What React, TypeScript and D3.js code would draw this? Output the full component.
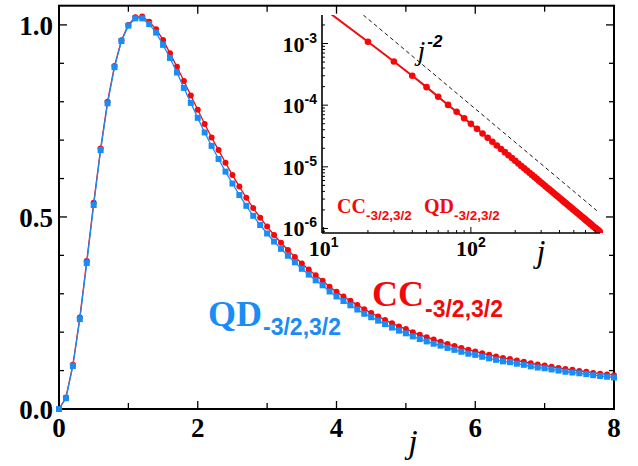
import * as d3 from 'd3';

// main panel: j from 0 to 8, step 0.1
const jGrid = d3.range(0, 81).map(i => i / 10);

const ccValues = [
  0, 0.030, 0.115, 0.238, 0.385, 0.537, 0.678, 0.800, 0.893, 0.960,
  1.000, 1.020, 1.022, 1.008, 0.989, 0.961, 0.926, 0.891, 0.854, 0.816,
  0.779, 0.742, 0.707, 0.674, 0.641, 0.609, 0.579, 0.550, 0.523, 0.498,
  0.475, 0.453, 0.433, 0.414, 0.396, 0.379, 0.363, 0.348, 0.334, 0.318,
  0.305, 0.293, 0.282, 0.271, 0.260, 0.250, 0.241, 0.232, 0.223, 0.215,
  0.208, 0.200, 0.193, 0.187, 0.181, 0.175, 0.169, 0.164, 0.159, 0.154,
  0.150, 0.145, 0.141, 0.137, 0.133, 0.130, 0.126, 0.123, 0.119, 0.116,
  0.113, 0.110, 0.107, 0.104, 0.102, 0.099, 0.097, 0.094, 0.092, 0.090,
  0.088,
];

const qdValues = [
  0, 0.028, 0.112, 0.234, 0.380, 0.531, 0.674, 0.796, 0.890, 0.958,
  0.998, 1.017, 1.017, 1.002, 0.980, 0.948, 0.914, 0.876, 0.836, 0.797,
  0.758, 0.720, 0.685, 0.651, 0.618, 0.587, 0.557, 0.529, 0.503, 0.479,
  0.457, 0.436, 0.417, 0.399, 0.382, 0.365, 0.350, 0.335, 0.322, 0.306,
  0.293, 0.281, 0.270, 0.259, 0.248, 0.239, 0.230, 0.221, 0.212, 0.204,
  0.197, 0.189, 0.182, 0.176, 0.170, 0.165, 0.159, 0.154, 0.149, 0.144,
  0.141, 0.136, 0.132, 0.128, 0.124, 0.122, 0.118, 0.115, 0.111, 0.108,
  0.106, 0.103, 0.100, 0.097, 0.095, 0.093, 0.091, 0.088, 0.086, 0.084,
  0.082,
];

// inset: j = 10 .. 750, step 10 (log-log)
const insetJ = d3.range(1, 76).map(i => i * 10);
const insetCC = [
  3.7e-3, 1.07e-3, 5.1e-4, 3.0e-4, 1.96e-4, 1.37e-4, 1.01e-4, 7.8e-5, 6.15e-5, 5.0e-5,
  4.13e-5, 3.47e-5, 2.96e-5, 2.55e-5, 2.22e-5, 1.95e-5, 1.73e-5, 1.54e-5, 1.385e-5, 1.25e-5,
  1.134e-5, 1.033e-5, 9.45e-6, 8.68e-6, 8.0e-6, 7.4e-6, 6.86e-6, 6.38e-6, 5.95e-6, 5.56e-6,
  5.2e-6, 4.88e-6, 4.59e-6, 4.33e-6, 4.08e-6, 3.86e-6, 3.65e-6, 3.46e-6, 3.29e-6, 3.13e-6,
  2.97e-6, 2.83e-6, 2.7e-6, 2.58e-6, 2.47e-6, 2.36e-6, 2.26e-6, 2.17e-6, 2.08e-6, 2.0e-6,
  1.92e-6, 1.85e-6, 1.78e-6, 1.71e-6, 1.65e-6, 1.59e-6, 1.54e-6, 1.49e-6, 1.44e-6, 1.39e-6,
  1.34e-6, 1.3e-6, 1.26e-6, 1.22e-6, 1.18e-6, 1.15e-6, 1.11e-6, 1.08e-6, 1.05e-6, 1.02e-6,
  0.99e-6, 0.965e-6, 0.94e-6, 0.913e-6, 0.889e-6,
];

// j^-2 guide line endpoints
const guideJ = [18.6, 716];
const guideValues = [2.9e-3, 1.95e-6];

const mainXTicks = [0, 2, 4, 6, 8];
const mainYTicks = [0, 0.5, 1.0];
const mainYLabels = ['0.0', '0.5', '1.0'];
const insetXExp = [1, 2];
const insetYExp = [-6, -5, -4, -3];

const RED = '#f5080a';
const BLUE = '#1a8cf5';
const SERIF = "'Liberation Serif', 'Times New Roman', serif";
const SANS = "'Liberation Sans', Arial, sans-serif";

type P = [number, number];

export default function App() {
  const x = d3.scaleLinear().domain([0, 8]).range([59, 614]);
  const y = d3.scaleLinear().domain([0, 1.05]).range([409, 5.7]);
  const xi = d3.scaleLog().domain([9.75, 753]).range([322, 600]);
  const yi = d3.scaleLog().domain([8.45e-7, 2.9e-3]).range([233, 15]);

  const ccPts: P[] = jGrid.map((j, i) => [j, ccValues[i]]);
  const qdPts: P[] = jGrid.map((j, i) => [j, qdValues[i]]);
  const insetPts: P[] = insetJ.map((j, i) => [j, insetCC[i]]);
  const guidePts: P[] = guideJ.map((j, i) => [j, guideValues[i]]);

  const line = d3.line<P>().x(d => x(d[0])).y(d => y(d[1]));
  const lineI = d3.line<P>().x(d => xi(d[0])).y(d => yi(d[1]));

  const [x0, x1] = x.range();
  const [yb, yt] = y.range();
  const xMinor = d3.range(0, 9);
  const yMinor = d3.range(0, 11).map(i => i / 10);

  const [xiL, xiR] = xi.range();
  const [yiB, yiT] = yi.range();
  const [dyLo, dyHi] = yi.domain();
  const [dxLo, dxHi] = xi.domain();
  const insetYTicks: number[] = [];
  for (let e = -7; e <= -2; e++) for (let k = 1; k < 10; k++) {
    const v = k * Math.pow(10, e);
    if (v >= dyLo && v <= dyHi) insetYTicks.push(v);
  }
  const insetXTicks: number[] = [];
  for (let e = 0; e <= 3; e++) for (let k = 1; k < 10; k++) {
    const v = k * Math.pow(10, e);
    if (v >= dxLo && v <= dxHi) insetXTicks.push(v);
  }
  const isDecade = (v: number) => Math.abs(Math.log10(v) - Math.round(Math.log10(v))) < 1e-6;

  return (
    <svg width={638} height={466} style={{ position: 'fixed', left: 0, top: 0, background: '#fff' }}>
      <defs>
        <clipPath id="insetClip">
          <rect x={xiL} y={yiT} width={xiR - xiL + 6} height={yiB - yiT} />
        </clipPath>
      </defs>

      {/* main frame */}
      <rect x={x0} y={yt} width={x1 - x0} height={yb - yt} fill="none" stroke="#000" strokeWidth={2} />
      {xMinor.map(v => {
        const len = v % 2 === 0 ? 8 : 6;
        return (
          <g key={'xt' + v} stroke="#000" strokeWidth={1.3}>
            <line x1={x(v)} x2={x(v)} y1={yb} y2={yb - len} />
            <line x1={x(v)} x2={x(v)} y1={yt} y2={yt + len} />
          </g>
        );
      })}
      {yMinor.map(v => {
        const len = Math.abs(v * 2 - Math.round(v * 2)) < 1e-6 ? 8 : 5;
        return (
          <g key={'yt' + v} stroke="#000" strokeWidth={1.3}>
            <line x1={x0} x2={x0 + len} y1={y(v)} y2={y(v)} />
            <line x1={x1} x2={x1 - len} y1={y(v)} y2={y(v)} />
          </g>
        );
      })}
      {mainXTicks.map(v => (
        <text key={'xl' + v} x={x(v)} y={437} textAnchor="middle" fontFamily={SERIF} fontWeight="bold" fontSize={27}>{v}</text>
      ))}
      {mainYTicks.map((v, i) => (
        <text key={'yl' + v} x={53} y={y(v) + 10} textAnchor="end" fontFamily={SERIF} fontWeight="bold" fontSize={27}>{mainYLabels[i]}</text>
      ))}
      <text x={413} y={453} textAnchor="middle" fontFamily={SERIF} fontStyle="italic" fontSize={34}>j</text>

      {/* main curves */}
      <path d={line(ccPts) || ''} fill="none" stroke={RED} strokeWidth={1.3} />
      {ccPts.map((d, i) => (
        <circle key={'c' + i} cx={x(d[0])} cy={y(d[1])} r={3} fill={RED} />
      ))}
      <path d={line(qdPts) || ''} fill="none" stroke={BLUE} strokeWidth={1.3} />
      {qdPts.map((d, i) => (
        <rect key={'q' + i} x={x(d[0]) - 3} y={y(d[1]) - 3} width={6} height={6} fill={BLUE} />
      ))}

      <text x={208} y={326} fontFamily={SERIF} fontWeight="bold" fontSize={36} fill={BLUE}>
        QD<tspan dy={9} dx={1} fontFamily={SANS} fontSize={23}>-3/2,3/2</tspan>
      </text>
      <text x={372} y={306} fontFamily={SERIF} fontWeight="bold" fontSize={36} fill={RED}>
        CC<tspan dy={11} dx={1} fontFamily={SANS} fontSize={23}>-3/2,3/2</tspan>
      </text>

      {/* inset */}
      <g clipPath="url(#insetClip)">
        <path d={lineI(guidePts) || ''} fill="none" stroke="#000" strokeWidth={0.9} strokeDasharray="4,3" />
        <path d={lineI(insetPts) || ''} fill="none" stroke={RED} strokeWidth={2} />
        {insetPts.map((d, i) => (
          <circle key={'ic' + i} cx={xi(d[0])} cy={yi(d[1])} r={3.3} fill={RED} />
        ))}
      </g>
      <line x1={xiL} x2={xiL} y1={yiT} y2={yiB} stroke="#000" strokeWidth={1.6} />
      <line x1={xiL} x2={xiR} y1={yiB} y2={yiB} stroke="#000" strokeWidth={1.6} />
      {insetYTicks.map(v => (
        <line key={'iy' + v} x1={xiL} x2={xiL + (isDecade(v) ? 6 : 3)} y1={yi(v)} y2={yi(v)} stroke="#000" strokeWidth={1} />
      ))}
      {insetXTicks.map(v => (
        <line key={'ix' + v} x1={xi(v)} x2={xi(v)} y1={yiB} y2={yiB - (isDecade(v) ? 6 : 3)} stroke="#000" strokeWidth={1} />
      ))}
      {insetYExp.map(e => (
        <text key={'iyl' + e} x={317} y={yi(Math.pow(10, e)) + 8} textAnchor="end" fontFamily={SERIF} fontWeight="bold" fontSize={22}>
          10<tspan dy={-9} fontFamily={SANS} fontSize={14}>{e}</tspan>
        </text>
      ))}
      {insetXExp.map(e => (
        <text key={'ixl' + e} x={xi(Math.pow(10, e))} y={256} textAnchor="middle" fontFamily={SERIF} fontWeight="bold" fontSize={22}>
          10<tspan dy={-9} fontFamily={SANS} fontSize={14}>{e}</tspan>
        </text>
      ))}
      <text x={541} y={262} textAnchor="middle" fontFamily={SERIF} fontStyle="italic" fontSize={32}>j</text>
      <text x={430} y={60} textAnchor="middle" fontFamily={SERIF} fontStyle="italic" fontSize={28}>
        j<tspan dx={2} dy={-13} fontFamily={SANS} fontWeight="bold" fontSize={17}>-2</tspan>
      </text>
      <text x={337} y={213} fontFamily={SERIF} fontWeight="bold" fontSize={20} fill={RED}>
        CC<tspan dy={7} fontFamily={SANS} fontSize={13.5}>-3/2,3/2</tspan>
      </text>
      <text x={424} y={213} fontFamily={SERIF} fontWeight="bold" fontSize={20} fill={RED}>
        QD<tspan dy={7} fontFamily={SANS} fontSize={13.5}>-3/2,3/2</tspan>
      </text>
    </svg>
  );
}
